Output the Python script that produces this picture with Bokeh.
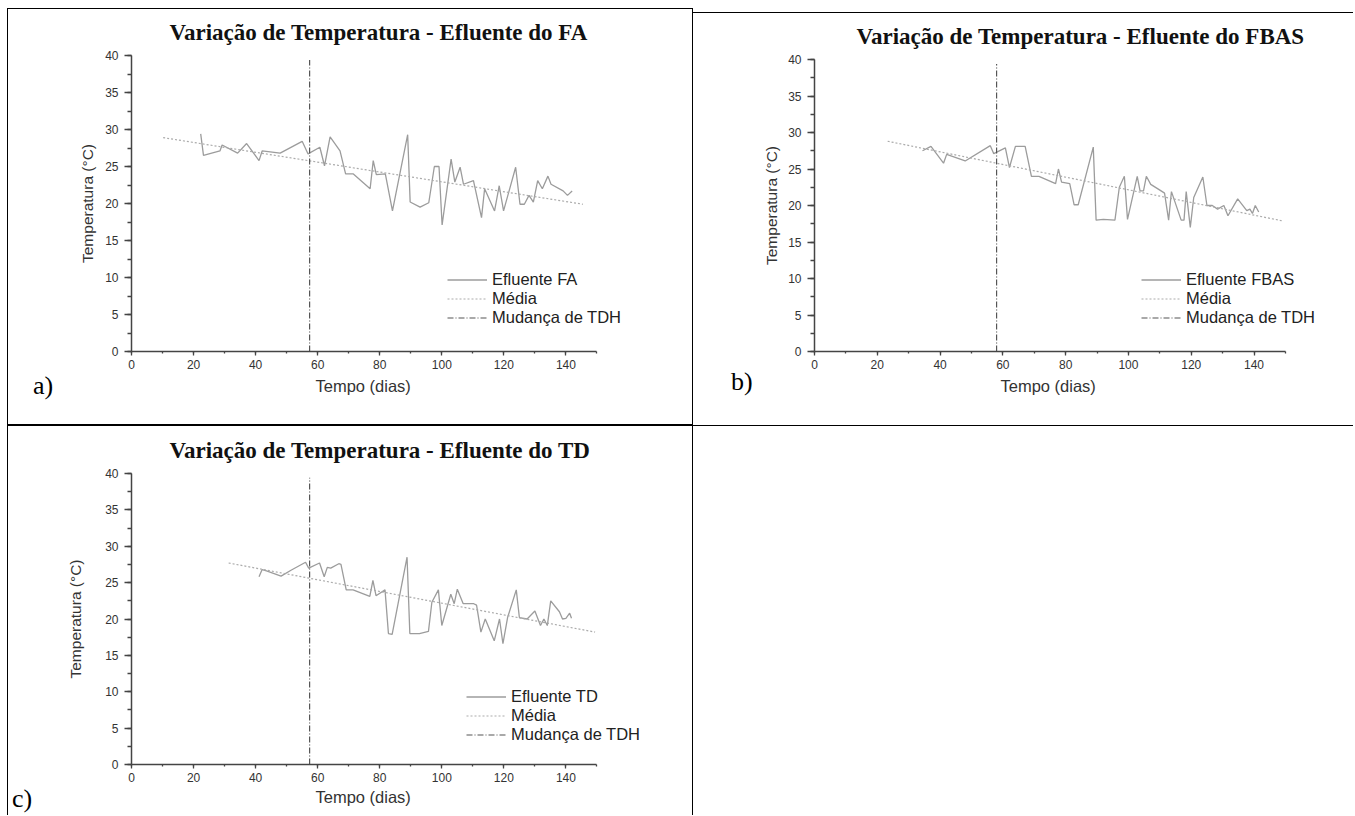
from bokeh.plotting import figure
from bokeh.layouts import row, column
from bokeh.models import Range1d, Legend, LegendItem, Title, Div, SingleIntervalTicker
from bokeh.embed import file_html
from bokeh.resources import INLINE

# ---------------- data ----------------
fa_day = [22.3, 23.2, 28.5, 29.2, 34.2, 37.1, 41.1, 42.1, 47.9, 55.0, 56.9, 60.7, 62.2, 64.0,
          67.2, 69.0, 71.5, 76.9, 77.9, 78.9, 81.8, 84.1, 89.0, 89.8, 93.0, 95.8, 97.6, 99.1,
          100.1, 103.0, 104.2, 105.9, 107.0, 110.2, 112.8, 113.8, 117.0, 118.5, 119.9, 123.8,
          125.2, 126.6, 128.1, 129.5, 130.9, 132.4, 134.2, 135.2, 139.1, 140.5, 142.0]
fa_temp = [29.4, 26.5, 27.1, 27.9, 26.8, 28.1, 25.8, 27.1, 26.8, 28.4, 26.7, 27.6, 25.1, 29.0,
           27.1, 24.0, 24.0, 22.0, 25.8, 23.9, 24.0, 19.0, 29.3, 20.2, 19.5, 20.1, 25.0, 25.0,
           17.1, 26.0, 22.9, 24.9, 22.6, 23.1, 18.1, 22.0, 19.0, 22.4, 19.0, 24.9,
           19.9, 19.9, 21.1, 20.2, 23.1, 22.0, 23.7, 22.6, 21.7, 21.1, 21.7]

fbas_day = [34.4, 37.1, 41.1, 42.1, 48.0, 56.0, 57.1, 60.8, 62.1, 64.0, 67.1, 69.1, 71.5, 76.8,
            77.7, 78.7, 81.3, 82.7, 84.0, 88.8, 89.7, 92.0, 95.7, 97.1, 98.7, 99.7, 102.8, 103.7,
            104.8, 105.7, 107.1, 110.4, 111.5, 112.8, 113.7, 116.8, 117.7, 118.4, 119.7, 120.8,
            123.7, 125.0, 126.7, 128.4, 130.4, 131.7, 134.8, 137.7, 138.7, 139.5, 140.4, 141.5]
fbas_temp = [27.5, 28.1, 25.8, 27.0, 26.1, 28.2, 27.1, 27.9, 25.2, 28.1, 28.1, 24.0, 24.0, 23.0,
             25.0, 23.2, 23.0, 20.1, 20.1, 28.0, 18.0, 18.1, 18.0, 22.5, 24.0, 18.1, 24.0, 22.0,
             22.0, 24.0, 22.9, 22.0, 21.7, 18.0, 21.9, 18.0, 18.0, 21.9, 17.0, 21.1,
             23.9, 20.0, 20.0, 19.5, 20.0, 18.6, 20.9, 19.3, 19.5, 18.9, 20.0, 19.1]

td_day = [41.1, 42.1, 43.5, 48.2, 51.4, 56.1, 57.1, 60.6, 62.1, 63.1, 64.2, 66.8, 67.5, 69.2,
          71.4, 76.8, 77.8, 78.8, 81.7, 82.8, 84.0, 88.8, 89.7, 92.8, 95.7, 96.8, 98.9, 100.0,
          102.9, 104.0, 105.0, 106.9, 110.3, 111.2, 112.6, 114.0, 116.9, 118.6, 119.7, 121.2,
          124.0, 125.0, 127.5, 130.0, 131.8, 132.9, 134.0, 135.1, 137.9, 138.9, 140.0, 141.2, 141.8]
td_temp = [25.8, 26.8, 26.6, 25.9, 26.7, 27.8, 27.0, 27.7, 25.8, 27.1, 27.0, 27.6, 27.5, 24.0,
           24.0, 23.1, 25.3, 23.2, 24.0, 18.0, 17.9, 28.5, 18.0, 18.0, 18.3, 22.3, 24.0, 19.1,
           23.4, 22.1, 24.1, 22.1, 22.1, 21.9, 18.2, 20.0, 17.0, 20.0, 16.6, 20.2,
           24.0, 20.2, 20.0, 21.1, 19.1, 20.0, 19.1, 22.5, 21.0, 20.0, 20.1, 20.8, 20.1]

# mean (trend) lines: start/end day and temperature
fa_media_day, fa_media_temp = [10.2, 145.5], [28.9, 19.9]
fbas_media_day, fbas_media_temp = [23.3, 149.0], [28.8, 17.9]
td_media_day, td_media_temp = [31.3, 149.4], [27.7, 18.2]

# HRT change (Mudança de TDH)
fa_tdh_day, fbas_tdh_day, td_tdh_day = 57.4, 58.0, 57.4
tdh_span = [0, 39.4]

titles = ["Variação de Temperatura - Efluente do FA",
          "Variação de Temperatura - Efluente do FBAS",
          "Variação de Temperatura - Efluente do TD"]
series_names = ["Efluente FA", "Efluente FBAS", "Efluente TD"]
tags = ["a)", "b)", "c)"]
x_label = "Tempo (dias)"
y_label = "Temperatura (°C)"
media_name = "Média"
tdh_name = "Mudança de TDH"

SANS = "Liberation Sans"
SERIF = "Liberation Serif"
AX = "#444444"
B1 = "1px solid black"
B2 = "2px solid black"


def panel(title, name, days, temps, mday, mtemp, tday, g, styles):
    p = figure(width=g["w"], height=g["h"], output_backend="svg", toolbar_location=None,
               x_range=Range1d(0, 165), y_range=Range1d(0, 40),
               min_border_left=g["l"], min_border_right=g["r"],
               min_border_top=g["t"], min_border_bottom=g["b"],
               styles=styles, margin=g.get("margin", (0, 0, 0, 0)))
    p.outline_line_color = None
    p.xgrid.visible = False
    p.ygrid.visible = False

    p.title = Title(text=title, align="left", offset=g["toff"], standoff=g["tstand"],
                    vertical_align="top",
                    text_font=SERIF, text_font_style="bold", text_font_size="23px",
                    text_color="#111111")

    p.xaxis.ticker = SingleIntervalTicker(interval=20, num_minor_ticks=2)
    p.yaxis.ticker = SingleIntervalTicker(interval=5, num_minor_ticks=2)
    p.xaxis.bounds = (0, 150)
    for ax in (p.xaxis[0], p.yaxis[0]):
        ax.axis_line_color = AX
        ax.axis_line_width = 1.5
        ax.major_tick_line_color = AX
        ax.minor_tick_line_color = AX
        ax.major_tick_line_width = 1.3
        ax.minor_tick_line_width = 1.3
        ax.major_label_text_font = SANS
        ax.major_label_text_font_size = "12px"
        ax.major_label_text_color = "#333333"
        ax.axis_label_text_font = SANS
        ax.axis_label_text_font_size = "15.5px"
        ax.axis_label_text_font_style = "normal"
        ax.axis_label_text_color = "#333333"
    p.xaxis.major_tick_in = 0
    p.xaxis.major_tick_out = 4
    p.xaxis.minor_tick_in = 0
    p.xaxis.minor_tick_out = 2
    p.xaxis.major_label_standoff = 4
    p.yaxis.major_tick_in = 0
    p.yaxis.major_tick_out = 7
    p.yaxis.minor_tick_in = 0
    p.yaxis.minor_tick_out = 4
    p.yaxis.major_label_standoff = 6
    p.yaxis.axis_label = y_label
    p.yaxis.axis_label_standoff = g["ylstand"]

    # x-axis title (placed below the tick labels)
    p.add_layout(Title(text=x_label, align="left", offset=g["xoff"], standoff=g["xstand"],
                       vertical_align="top", text_font=SANS, text_font_size="16.5px",
                       text_font_style="normal", text_color="#333333"), "below")

    r_data = p.line(days, temps, line_color="#9c9c9c", line_width=1.3)
    r_media = p.line(mday, mtemp, line_color="#ababab", line_width=1.2, line_dash="2 2")
    r_tdh = p.line([tday, tday], tdh_span, line_color="#555555", line_width=1.2,
                   line_dash="6 2 1 2")

    legend = Legend(items=[LegendItem(label=name, renderers=[r_data]),
                           LegendItem(label=media_name, renderers=[r_media]),
                           LegendItem(label=tdh_name, renderers=[r_tdh])],
                    location=g["leg"], orientation="vertical",
                    border_line_color=None, background_fill_alpha=0,
                    padding=0, margin=0, spacing=0, glyph_width=40, glyph_height=19,
                    label_height=19, label_standoff=5,
                    label_text_font=SANS, label_text_font_size="16.5px",
                    label_text_color="#222222")
    p.add_layout(legend)
    return p


def strip(tag, w, h, top, left, styles, margin=(0, 0, 0, 0)):
    html = (f'<div style="height:{top}px"></div>'
            f'<div style="margin-left:{left}px; font-family:\'Liberation Serif\'; '
            f'font-size:26px; line-height:26px; color:black; white-space:nowrap;">{tag}</div>')
    return Div(text=html, width=w, height=h, styles=styles, margin=margin)


ga = dict(w=620, h=418, l=58, r=50, t=46, b=76, toff=38, tstand=17, ylstand=6,
          xoff=184, xstand=10, leg=(316, 24.5))
gb = dict(w=596, h=414, l=57, r=21, t=46, b=76, toff=42, tstand=17, ylstand=5,
          xoff=186, xstand=10, leg=(327, 24.5), margin=(4, 0, 0, 0))
gc = dict(w=636, h=389, l=74, r=50, t=47, b=51, toff=38, tstand=17, ylstand=18,
          xoff=184, xstand=6, leg=(335, 20.5))

pa = panel(titles[0], series_names[0], fa_day, fa_temp, fa_media_day, fa_media_temp,
           fa_tdh_day, ga, {"border-top": B1, "border-right": B1, "border-bottom": B2})
pb = panel(titles[1], series_names[1], fbas_day, fbas_temp, fbas_media_day, fbas_media_temp,
           fbas_tdh_day, gb, {"border-top": B1, "border-bottom": B1})
pc = panel(titles[2], series_names[2], td_day, td_temp, td_media_day, td_media_temp,
           td_tdh_day, gc, {"border-right": B1})

sa = strip(tags[0], 66, 418, 364, 25, {"border-left": B1, "border-top": B1, "border-bottom": B2})
sb = strip(tags[1], 64, 414, 356, 38, {"border-top": B1, "border-bottom": B1}, margin=(4, 0, 0, 0))
sc = strip(tags[2], 50, 389, 360, 4, {"border-left": B1})

layout = column(row(sa, pa, sb, pb), row(sc, pc), margin=(8, 0, 0, 7))

open("out.html", "w").write(file_html(layout, INLINE))
